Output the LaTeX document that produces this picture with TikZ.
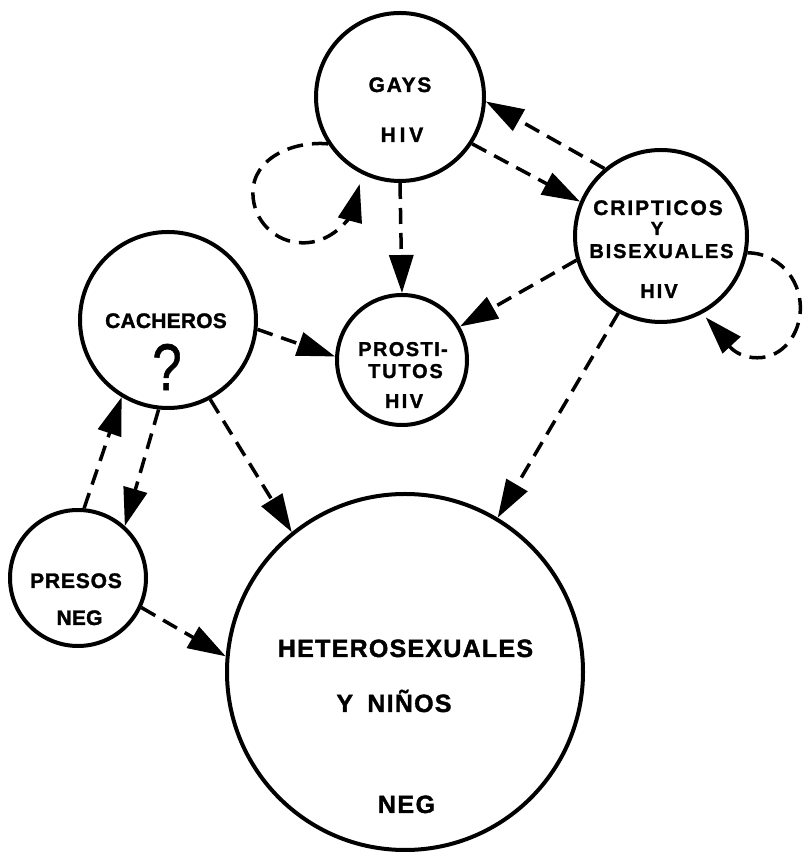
\documentclass[tikz,border=0pt]{standalone}
\usepackage{fontspec}
\setmainfont{Liberation Sans}
\usetikzlibrary{arrows.meta}
\newcommand\mylbl[3]{\fontsize{#1bp}{#1bp}\selectfont\bfseries\addfontfeature{LetterSpace=#2,FakeBold=1.5}#3}
\tikzset{
  grp/.style={circle, draw, line width=4bp, minimum size=#1, inner sep=0pt},
  txt/.style={anchor=base, inner sep=0pt},
  flow/.style={line width=3.5bp, dash pattern=on 16bp off 9bp,
    -{Triangle[length=38bp,width=24bp]}},
}
\begin{document}
\begin{tikzpicture}[x=1bp,y=1bp]
\useasboundingbox (0,0) rectangle (803,854);
% circles
\node[grp=168bp] (gays) at (400,757) {};
\node[grp=172bp] (cript) at (661,618) {};
\node[grp=176bp] (cach) at (168,534) {};
\node[grp=130bp] (prost) at (402,494) {};
\node[grp=136bp] (presos) at (78,276) {};
\node[grp=356bp] (hetero) at (405,182) {};
% labels
\node[txt] (tgays) at (400,762) {\mylbl{21}{8}{GAYS}};
\node[txt] (tgayshiv) at (402,712) {\mylbl{21}{18}{HIV}};
\node[txt] (tcrip1) at (658,639) {\mylbl{21}{9}{CRIPTICOS}};
\node[txt] (tcrip2) at (657,619) {\mylbl{19}{0}{Y}};
\node[txt] (tcrip3) at (661.5,596) {\mylbl{20}{9}{BISEXUALES}};
\node[txt] (tcriphiv) at (659,556) {\mylbl{20}{10}{HIV}};
\node[txt] (tcach) at (166,526) {\mylbl{21}{1}{CACHEROS}};
\node[inner sep=0pt, xscale=0.8] (tq) at (167,487) {\fontsize{66bp}{66bp}\selectfont\addfontfeature{FakeBold=1}?};
\node[txt] (tprost1) at (403,498) {\mylbl{20}{7}{PROSTI-}};
\node[txt] (tprost2) at (405.5,476) {\mylbl{20}{9}{TUTOS}};
\node[txt] (tprosthiv) at (404,446) {\mylbl{20}{12}{HIV}};
\node[txt] (tpresos) at (76,266) {\mylbl{21}{4}{PRESOS}};
\node[txt] (tpresosneg) at (79.5,229) {\mylbl{21}{1}{NEG}};
\node[txt] (thetero) at (405.5,197) {\mylbl{25}{5}{HETEROSEXUALES}};
\node[txt] (tninos) at (394,142) {\mylbl{25}{5}{Y\hspace{6bp} NIÑOS}};
\node[txt] (theteroneg) at (406.5,41) {\mylbl{25}{6}{NEG}};
% connectors
\draw[flow] (gays.-90) -- (prost.90);
\draw[flow] (gays.-33.7) -- (cript.157.2);
\draw[flow] (cript.130.7) -- (gays.-3.9);
\draw[flow] (cript.196) -- (prost.30.2);
\draw[flow] (cach.-6.4) -- (prost.177.4);
\draw[flow] (cript.-119.7) -- (hetero.59.4);
\draw[flow] (cach.-62.9) -- (hetero.129.4);
\draw[flow] (cach.-96.7) -- (presos.48.6);
\draw[flow] (presos.85.9) -- (cach.-121);
\draw[flow] (presos.-25.8) -- (hetero.175.4);
% self loops
\draw[flow, shorten >=10bp] (gays.213) to[out=175,in=90] ++(-75,-49)
  to[out=-90,in=180] ++(50,-50) to[out=0,in=-105] (gays.-116);
\draw[flow, shorten >=5bp] (cript.-11) to[out=0,in=90] ++(53,-55)
  to[out=-90,in=0] ++(-43,-50) to[out=180,in=-47] (cript.-62.6);
\end{tikzpicture}
\end{document}
